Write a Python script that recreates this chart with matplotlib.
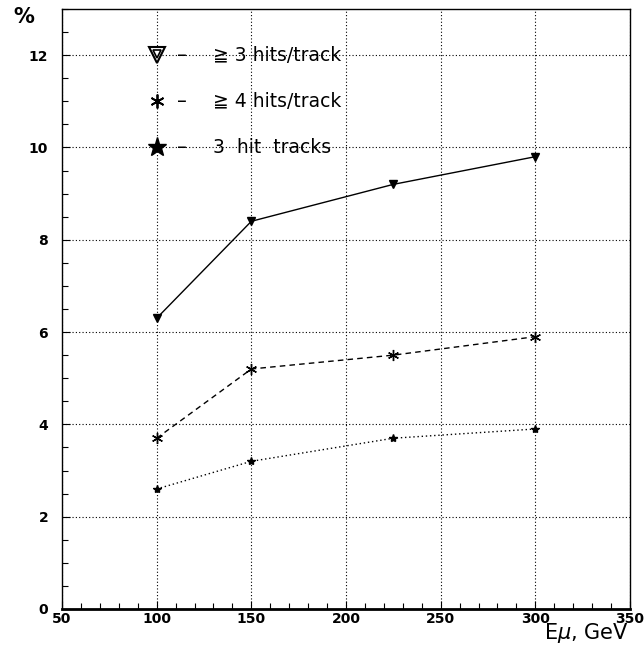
import matplotlib
matplotlib.use("Agg")
import matplotlib.pyplot as plt
from matplotlib.ticker import MultipleLocator

# energies (GeV) and efficiencies (%)
energy = [100, 150, 225, 300]
hits3_plus = [6.3, 8.4, 9.2, 9.8]
hits4_plus = [3.7, 5.2, 5.5, 5.9]
hit3_tracks = [2.6, 3.2, 3.7, 3.9]

legend_labels = ["\u2267 3 hits/track", "\u2267 4 hits/track", "3  hit  tracks"]
legend_y = [12.0, 11.0, 10.0]

fig = plt.figure(figsize=(6.44, 6.46), dpi=100)
ax = fig.add_axes([0.0963, 0.0573, 0.882, 0.9288])

asterisk = (6, 2, 0)

ax.plot(energy, hits3_plus, color="black", lw=1.0, ls="-",
        marker="v", ms=6, mfc="black", mec="black")
ax.plot(energy, hits4_plus, color="black", lw=1.0, ls=(0, (4, 3)),
        marker=asterisk, ms=8, mec="black", mew=1.0)
ax.plot(energy, hit3_tracks, color="black", lw=1.0, ls=(0, (1, 2)),
        marker="*", ms=6, mfc="black", mec="black")

# legend drawn as text in data coordinates
ax.plot([100], [legend_y[0]], marker="v", ms=11, mfc="white", mec="black", mew=1.5)
ax.plot([100], [legend_y[0] + 0.03], marker="v", ms=6, mfc="white", mec="black", mew=1.2)
ax.plot([100], [legend_y[1]], marker=asterisk, ms=10, mec="black", mew=1.3)
ax.plot([100], [legend_y[2]], marker="*", ms=14, mfc="black", mec="black")
for y, lab in zip(legend_y, legend_labels):
    ax.text(110.5, y, "\u2013", fontsize=14, va="center", ha="left")
    ax.text(129.5, y, lab, fontsize=13.5, va="center", ha="left")

ax.set_xlim(50, 350)
ax.set_ylim(0, 13)
ax.xaxis.set_major_locator(MultipleLocator(50))
ax.xaxis.set_minor_locator(MultipleLocator(10))
ax.yaxis.set_major_locator(MultipleLocator(2))
ax.yaxis.set_minor_locator(MultipleLocator(0.5))
ax.tick_params(which="both", direction="in", top=False, right=False,
               labelsize=10, width=0.8)
ax.tick_params(which="major", length=6)
ax.tick_params(which="minor", length=4)
ax.tick_params(axis="x", pad=2.5)
ax.tick_params(axis="y", pad=10)
for t in ax.get_xticklabels() + ax.get_yticklabels():
    t.set_fontweight("bold")
ax.grid(True, which="major", ls=(0, (1, 2)), color="black", lw=0.8)
for s in ax.spines.values():
    s.set_linewidth(1.0)
ax.spines["bottom"].set_linewidth(2.0)

fig.text(0.037, 0.974, "%", fontsize=15, fontweight="bold", ha="center", va="center")
fig.text(0.977, 0.0108, "E$\\mu$, GeV", fontsize=15, ha="right", va="baseline")

fig.savefig("out.png", dpi=100)
